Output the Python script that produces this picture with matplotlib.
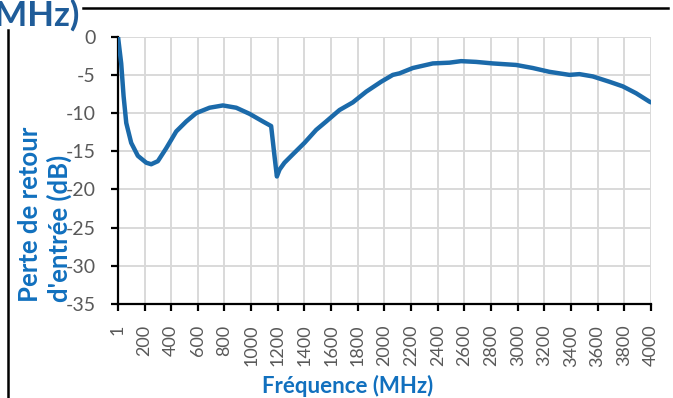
import matplotlib
matplotlib.use("Agg")
import matplotlib.pyplot as plt
from matplotlib.lines import Line2D

plt.rcParams['font.family'] = ['Lato', 'DejaVu Sans']

freq_mhz = [1, 25, 43, 63, 100, 150, 213, 250, 300, 363, 438, 513, 588, 688, 788,
            888, 988, 1088, 1150, 1175, 1193, 1213, 1250, 1313, 1400, 1488, 1563,
            1663, 1763, 1863, 1975, 2063, 2113, 2213, 2363, 2488, 2575, 2688, 2813,
            2988, 3113, 3238, 3388, 3463, 3563, 3688, 3788, 3888, 3988, 4000]
loss_db = [0.0, -3.5, -7.8, -11.3, -13.9, -15.6, -16.5, -16.7, -16.3, -14.6, -12.4,
           -11.1, -10.0, -9.3, -9.0, -9.3, -10.1, -11.1, -11.7, -15.6, -18.3, -17.4,
           -16.5, -15.4, -13.9, -12.2, -11.1, -9.6, -8.6, -7.2, -5.9, -5.0, -4.8,
           -4.1, -3.5, -3.4, -3.2, -3.3, -3.5, -3.7, -4.1, -4.6, -5.0, -4.9, -5.2,
           -5.9, -6.5, -7.4, -8.5, -8.6]
x_ticks = [1] + list(range(200, 4001, 200))
y_ticks = [0, -5, -10, -15, -20, -25, -30, -35]

W, H = 673, 398
fig = plt.figure(figsize=(W / 100, H / 100), dpi=100)
ax = fig.add_axes([118 / W, 1 - 304 / H, (651 - 118) / W, (304 - 36.7) / H])

ax.plot(freq_mhz, loss_db, color='#1B6AAA', lw=3.2, solid_capstyle='round',
        solid_joinstyle='round', zorder=3)
ax.set_xlim(1, 4000)
ax.set_ylim(-35, 0)
ax.set_xticks(x_ticks)
ax.set_xticklabels([str(t) for t in x_ticks], rotation=90)
ax.set_yticks(y_ticks)
ax.set_yticklabels([str(t) for t in y_ticks])
ax.grid(True, color='#D9D9D9', lw=1.4, zorder=0)
ax.set_axisbelow(True)
for s in ['top', 'right']:
    ax.spines[s].set_visible(False)
for s in ['left', 'bottom']:
    ax.spines[s].set_color('black')
    ax.spines[s].set_linewidth(1.6)
ax.tick_params(axis='both', direction='out', length=5, width=1.6, color='black',
               labelcolor='#595959', labelsize=14)
ax.tick_params(axis='x', pad=10, labelsize=13)
ax.tick_params(axis='y', pad=11)

blue = '#1170BE'
fig.text(348 / W, 1 - 386 / H, 'Fréquence (MHz)', ha='center', va='center',
         fontsize=16, fontweight='bold', color=blue)
fig.text(45 / W, 1 - 302 / H, "Perte de retour\nd'entrée (dB)", ha='center', va='bottom',
         rotation=90, multialignment='left', fontsize=18.5, fontweight='bold', color=blue,
         linespacing=1.2)

fig.add_artist(Line2D([8 / W, 8 / W], [1 - 30 / H, 0], color='black', lw=1.8,
                      transform=fig.transFigure))
fig.add_artist(Line2D([83 / W, 668 / W], [1 - 7.5 / H, 1 - 7.5 / H], color='black', lw=1.8,
                      transform=fig.transFigure))
fig.text(80 / W, 1 - 15 / H, '(MHz)', ha='right', va='center', fontsize=25,
         fontweight='bold', color='#1F5C99')

fig.savefig('out.png', dpi=100)
